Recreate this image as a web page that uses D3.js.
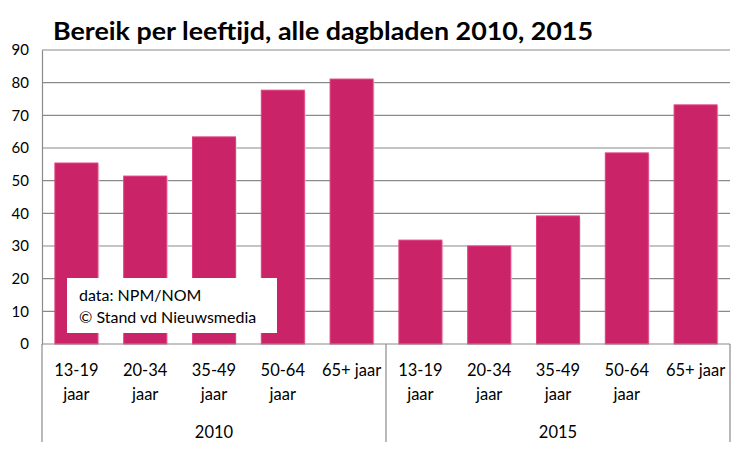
<!DOCTYPE html>
<html><head><meta charset="utf-8">
<script src="https://cdn.jsdelivr.net/npm/d3@7"></script>
<style>body{margin:0;background:#fff}svg{display:block}</style>
</head><body>
<svg id="c" width="750" height="450"></svg>
<script>
const title = "Bereik per leeftijd, alle dagbladen 2010, 2015";
const years = ["2010", "2015"];
const ageGroups = ["13-19 jaar", "20-34 jaar", "35-49 jaar", "50-64 jaar", "65+ jaar"];
const values2010 = [55.4, 51.4, 63.4, 77.7, 81.1];
const values2015 = [31.8, 30.0, 39.2, 58.5, 73.2];
const yTicks = [0, 10, 20, 30, 40, 50, 60, 70, 80, 90];
const noteLines = ["data: NPM/NOM", "© Stand vd Nieuwsmedia"];

const data = [];
years.forEach((yr, i) => {
  const vals = i === 0 ? values2010 : values2015;
  ageGroups.forEach((a, j) => data.push({key: yr + "|" + a, year: yr, age: a, value: vals[j]}));
});

const svg = d3.select("#c");
const L = 42, R = 730, T = 50, B = 344;
const x = d3.scaleBand().domain(data.map(d => d.key)).range([L, R]).paddingInner(0.375).paddingOuter(0.1875);
const y = d3.scaleLinear().domain([0, 90]).range([B, T]);
const font = "Lato, 'Open Sans', sans-serif";

svg.append("text").attr("x", 53).attr("y", 40).attr("font-family", font)
  .attr("font-weight", "bold").attr("font-size", 25).attr("fill", "#000")
  .attr("textLength", 540).attr("lengthAdjust", "spacingAndGlyphs").text(title);

// gridlines
svg.append("g").selectAll("line").data(yTicks.filter(t => t > 0)).join("line")
  .attr("x1", L).attr("x2", R).attr("y1", d => y(d)).attr("y2", d => y(d))
  .attr("stroke", "#8a8a8a").attr("stroke-width", 1.2);

// y axis
const yAxis = svg.append("g").attr("transform", `translate(${L},0)`)
  .call(d3.axisLeft(y).tickValues(yTicks).tickSize(0).tickPadding(13));
yAxis.select(".domain").attr("stroke", "#8a8a8a").attr("stroke-width", 1.2);
yAxis.selectAll("text").attr("font-family", font).attr("font-size", 15).attr("fill", "#000");

// bars shadow
svg.append("g").selectAll("rect").data(data).join("rect")
  .attr("x", d => x(d.key) + 1.5).attr("y", d => y(d.value) + 1.5)
  .attr("width", x.bandwidth()).attr("height", d => B - y(d.value) - 1.5)
  .attr("fill", "#d9d9d9").attr("opacity", 0.7);
svg.append("g").selectAll("rect").data(data).join("rect")
  .attr("x", d => x(d.key)).attr("y", d => y(d.value))
  .attr("width", x.bandwidth()).attr("height", d => B - y(d.value))
  .attr("fill", "#cb2367").attr("stroke", "#e0407f").attr("stroke-width", 1);

// x axis baseline
svg.append("line").attr("x1", L).attr("x2", R).attr("y1", B).attr("y2", B)
  .attr("stroke", "#8a8a8a").attr("stroke-width", 1.2);
// group separators
const sepX = [L, (L + R) / 2, R];
svg.append("g").selectAll("line").data(sepX).join("line")
  .attr("x1", d => d).attr("x2", d => d).attr("y1", B).attr("y2", 442)
  .attr("stroke", "#8a8a8a").attr("stroke-width", 1.2);

// category labels
const catG = svg.append("g").attr("font-family", font).attr("font-size", 16.5).attr("fill", "#000").attr("text-anchor", "middle");
data.forEach(d => {
  const cx = x(d.key) + x.bandwidth() / 2;
  const parts = d.age.startsWith("65") ? [d.age] : d.age.split(" ");
  parts.forEach((p, k) => {
    catG.append("text").attr("x", cx).attr("y", 376 + k * 23.5).text(p);
  });
});
// year labels
const grpW = (R - L) / 2;
years.forEach((yr, i) => {
  catG.append("text").attr("x", L + grpW * i + grpW / 2).attr("y", 438).text(yr);
});

// note box
svg.append("rect").attr("x", 67).attr("y", 278).attr("width", 210).attr("height", 55).attr("fill", "#fff");
const nt = svg.append("g").attr("font-family", font).attr("font-size", 16).attr("fill", "#000");
noteLines.forEach((t, i) => nt.append("text").attr("x", 79).attr("y", 301 + i * 21.5).text(t));
</script>
</body></html>
